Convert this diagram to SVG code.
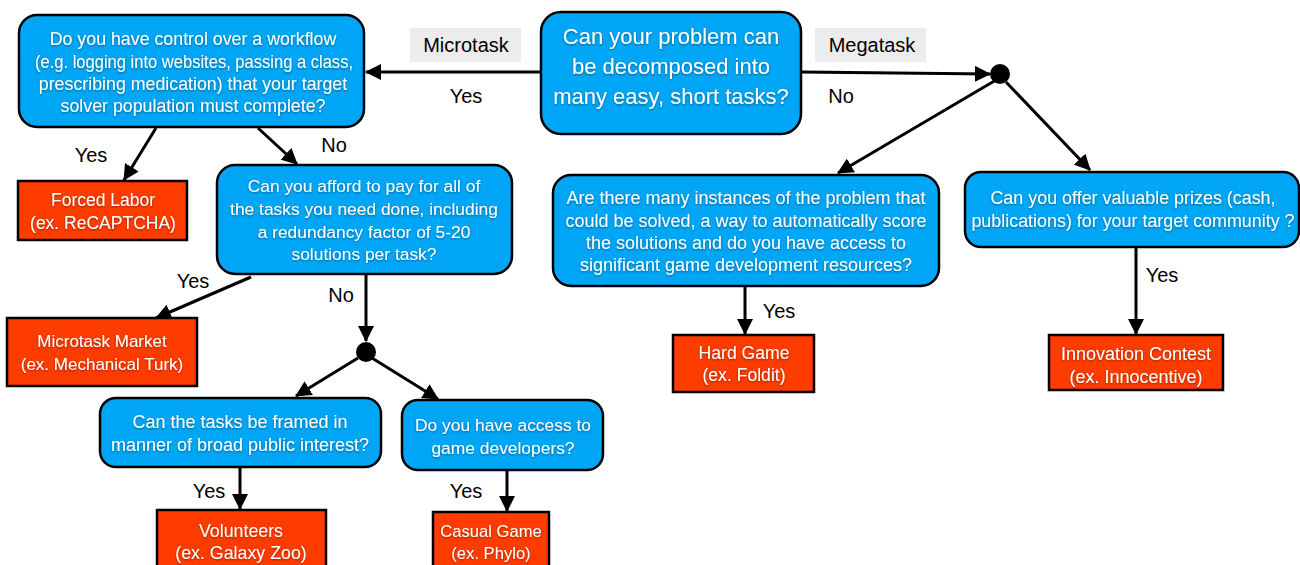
<svg xmlns="http://www.w3.org/2000/svg" width="1300" height="565" viewBox="0 0 1300 565">
<defs>
<marker id="ah" viewBox="0 0 16 16" refX="15" refY="8" markerWidth="16" markerHeight="16" markerUnits="userSpaceOnUse" orient="auto">
<path d="M0,0 L16,8 L0,16 z" fill="#000"/>
</marker>
<filter id="sh" x="-5%" y="-20%" width="110%" height="140%">
<feDropShadow dx="0" dy="1" stdDeviation="0.8" flood-color="#000" flood-opacity="0.45"/>
</filter>
</defs>
<style>
.q{fill:#00a6f6;stroke:#000;stroke-width:2.5}
.r{fill:#ff3c00;stroke:#000;stroke-width:2.5}
.t{font-family:"Liberation Sans",Arial,sans-serif;fill:#fff;text-anchor:middle;filter:url(#sh)}
.l{font-family:"Liberation Sans",Arial,sans-serif;fill:#000;text-anchor:middle;font-size:20px}
.c{stroke:#000;stroke-width:3;fill:none;marker-end:url(#ah)}
.g{fill:#ececec}
</style>
<rect width="1300" height="565" fill="#fff"/>

<g id="connectors">
<line class="c" x1="541" y1="72" x2="366" y2="72"/>
<line class="c" x1="801" y1="72" x2="990" y2="74"/>
<line class="c" x1="996" y1="80" x2="838" y2="173"/>
<line class="c" x1="1006" y1="82" x2="1090" y2="170"/>
<line class="c" x1="156" y1="128" x2="124" y2="180"/>
<line class="c" x1="258" y1="128" x2="297" y2="164"/>
<line class="c" x1="251" y1="277" x2="156" y2="318"/>
<line class="c" x1="366" y1="275" x2="366" y2="341"/>
<line class="c" x1="358" y1="358" x2="296" y2="396"/>
<line class="c" x1="372" y1="358" x2="438" y2="399"/>
<line class="c" x1="240" y1="468" x2="240" y2="509"/>
<line class="c" x1="507" y1="471" x2="507" y2="511"/>
<line class="c" x1="745" y1="287" x2="745" y2="334"/>
<line class="c" x1="1136" y1="248" x2="1136" y2="334"/>
<circle cx="1000" cy="74" r="10" fill="#000"/>
<circle cx="366" cy="352" r="10" fill="#000"/>
</g>

<g id="labels">
<rect class="g" x="410" y="28" width="111" height="34"/>
<text class="l" x="466" y="52">Microtask</text>
<rect class="g" x="815" y="28" width="111" height="34"/>
<text class="l" x="872" y="52">Megatask</text>
<text class="l" x="466" y="103">Yes</text>
<text class="l" x="841" y="103">No</text>
<text class="l" x="91" y="162">Yes</text>
<text class="l" x="334" y="152">No</text>
<text class="l" x="193" y="288">Yes</text>
<text class="l" x="341" y="302">No</text>
<text class="l" x="209" y="498">Yes</text>
<text class="l" x="466" y="498">Yes</text>
<text class="l" x="779" y="318">Yes</text>
<text class="l" x="1162" y="282">Yes</text>
</g>

<g id="n-root">
<rect class="q" x="541" y="12" width="260" height="122" rx="20"/>
<text class="t" font-size="22" x="671" y="44">Can your problem can</text>
<text class="t" font-size="22" x="671" y="74">be decomposed into</text>
<text class="t" font-size="22" x="671" y="104">many easy, short tasks?</text>
</g>

<g id="n-workflow">
<rect class="q" x="19" y="15" width="345" height="112" rx="18"/>
<text class="t" font-size="17.8" x="193" y="45">Do you have control over a workflow</text>
<text class="t" font-size="17.8" x="194" y="68" textLength="318" lengthAdjust="spacingAndGlyphs">(e.g. logging into websites, passing a class,</text>
<text class="t" font-size="17.8" x="193" y="90">prescribing medication) that your target</text>
<text class="t" font-size="17.8" x="193" y="112">solver population must complete?</text>
</g>

<g id="n-forced">
<rect class="r" x="18" y="181" width="169" height="59"/>
<text class="t" font-size="17.5" x="103" y="206">Forced Labor</text>
<text class="t" font-size="17.5" x="103" y="229">(ex. ReCAPTCHA)</text>
</g>

<g id="n-afford">
<rect class="q" x="217" y="165" width="295" height="109" rx="18"/>
<text class="t" font-size="17.4" x="364" y="192">Can you afford to pay for all of</text>
<text class="t" font-size="17.4" x="364" y="215">the tasks you need done, including</text>
<text class="t" font-size="17.4" x="364" y="238">a redundancy factor of 5-20</text>
<text class="t" font-size="17.4" x="364" y="260">solutions per task?</text>
</g>

<g id="n-market">
<rect class="r" x="7" y="318" width="190" height="68"/>
<text class="t" font-size="17" x="102" y="347">Microtask Market</text>
<text class="t" font-size="17" x="102" y="370">(ex. Mechanical Turk)</text>
</g>

<g id="n-public">
<rect class="q" x="100" y="398" width="281" height="69" rx="16"/>
<text class="t" font-size="18" x="240" y="428">Can the tasks be framed in</text>
<text class="t" font-size="18" x="240" y="451">manner of broad public interest?</text>
</g>

<g id="n-gamedev">
<rect class="q" x="402" y="400" width="201" height="70" rx="16"/>
<text class="t" font-size="17.4" x="503" y="431">Do you have access to</text>
<text class="t" font-size="17.4" x="503" y="454">game developers?</text>
</g>

<g id="n-volunteers">
<rect class="r" x="157" y="510" width="169" height="60"/>
<text class="t" font-size="17.8" x="241" y="537">Volunteers</text>
<text class="t" font-size="17.8" x="241" y="559">(ex. Galaxy Zoo)</text>
</g>

<g id="n-casual">
<rect class="r" x="433" y="512" width="116" height="58"/>
<text class="t" font-size="16.6" x="491" y="537">Casual Game</text>
<text class="t" font-size="16.6" x="491" y="559">(ex. Phylo)</text>
</g>

<g id="n-instances">
<rect class="q" x="553" y="175" width="386" height="111" rx="18"/>
<text class="t" font-size="18" x="746" y="204">Are there many instances of the problem that</text>
<text class="t" font-size="18" x="746" y="227">could be solved, a way to automatically score</text>
<text class="t" font-size="18" x="746" y="249">the solutions and do you have access to</text>
<text class="t" font-size="18" x="746" y="271">significant game development resources?</text>
</g>

<g id="n-hardgame">
<rect class="r" x="673" y="335" width="141" height="57"/>
<text class="t" font-size="17.6" x="744" y="359">Hard Game</text>
<text class="t" font-size="17.6" x="744" y="381">(ex. Foldit)</text>
</g>

<g id="n-prizes">
<rect class="q" x="965" y="172" width="334" height="75" rx="16"/>
<text class="t" font-size="17.9" x="1133" y="204">Can you offer valuable prizes (cash,</text>
<text class="t" font-size="17.9" x="1133" y="227">publications) for your target community ?</text>
</g>

<g id="n-contest">
<rect class="r" x="1049" y="335" width="174" height="55"/>
<text class="t" font-size="18" x="1136" y="360">Innovation Contest</text>
<text class="t" font-size="18" x="1136" y="383">(ex. Innocentive)</text>
</g>
</svg>
